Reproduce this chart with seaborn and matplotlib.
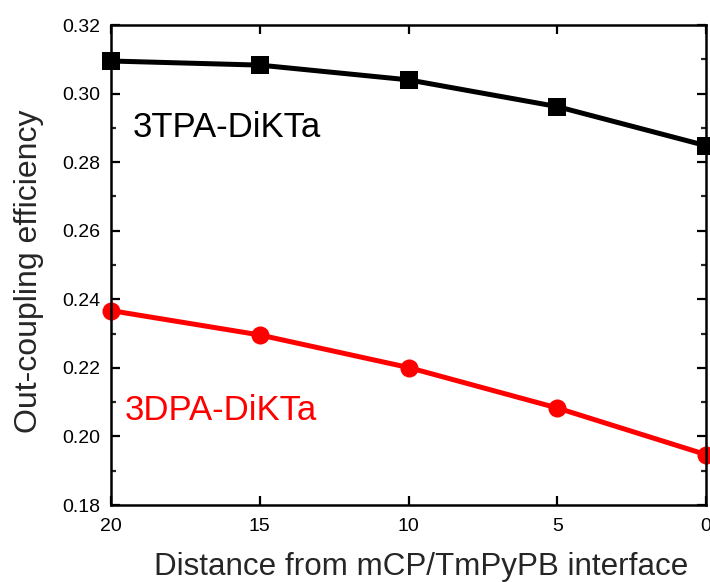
import matplotlib
matplotlib.use("Agg")
import matplotlib.pyplot as plt
from matplotlib.ticker import MultipleLocator, FormatStrFormatter
import seaborn as sns
import pandas as pd

# Distance from the mCP/TmPyPB interface and simulated out-coupling efficiency
distance = [20, 15, 10, 5, 0]
tpa_eff = [0.3095, 0.3083, 0.3040, 0.2962, 0.2848]
dpa_eff = [0.2367, 0.2296, 0.2201, 0.2083, 0.1947]
series_names = ["3TPA-DiKTa", "3DPA-DiKTa"]

df = pd.concat([
    pd.DataFrame({"distance": distance, "eff": tpa_eff, "emitter": series_names[0]}),
    pd.DataFrame({"distance": distance, "eff": dpa_eff, "emitter": series_names[1]}),
])

sns.set_style("ticks")
plt.rcParams["font.family"] = ["Liberation Sans", "DejaVu Sans"]

fig = plt.figure(figsize=(7.1, 5.82), dpi=100)
ax = fig.add_axes([111 / 710, 1 - 505 / 582, (706 - 111) / 710, (505 - 25) / 582])

sns.lineplot(data=df, x="distance", y="eff", hue="emitter", style="emitter",
             palette={series_names[0]: "black", series_names[1]: "#ff0000"},
             markers={series_names[0]: "s", series_names[1]: "o"},
             dashes=False, linewidth=3.6, markersize=13, markeredgewidth=0,
             legend=False, ax=ax, clip_on=False)

ax.set_xlim(20, 0)
ax.set_ylim(0.18, 0.32)
ax.xaxis.set_major_locator(MultipleLocator(5))
ax.yaxis.set_major_locator(MultipleLocator(0.02))
ax.yaxis.set_minor_locator(MultipleLocator(0.01))
ax.yaxis.set_major_formatter(FormatStrFormatter("%.2f"))

for side in ["left", "right", "top", "bottom"]:
    ax.spines[side].set_visible(True)
    ax.spines[side].set_linewidth(1.8)
    ax.spines[side].set_color("black")

ax.tick_params(which="major", direction="in", length=6.5, width=1.6,
               top=True, right=True, labelsize=14, pad=8, colors="black")
ax.tick_params(which="minor", direction="in", length=3.8, width=1.6,
               left=True, right=True)
ax.tick_params(axis="x", pad=9.5)

ax.set_xlabel("Distance from mCP/TmPyPB interface", fontsize=22.6, va="baseline")
ax.xaxis.set_label_coords(0.522, (505 - 575) / 480)
ax.set_ylabel("Out-coupling efficiency", fontsize=23)
ax.yaxis.set_label_coords((44 - 111) / 595, (505 - 271.5) / 480)

ax.text(0.037, (505 - 137) / 480, series_names[0], transform=ax.transAxes,
        fontsize=25, color="black", va="baseline")
ax.text(0.0235, (505 - 420) / 480, series_names[1], transform=ax.transAxes,
        fontsize=25, color="#ff0000", va="baseline")

fig.savefig("out.png", dpi=100)
